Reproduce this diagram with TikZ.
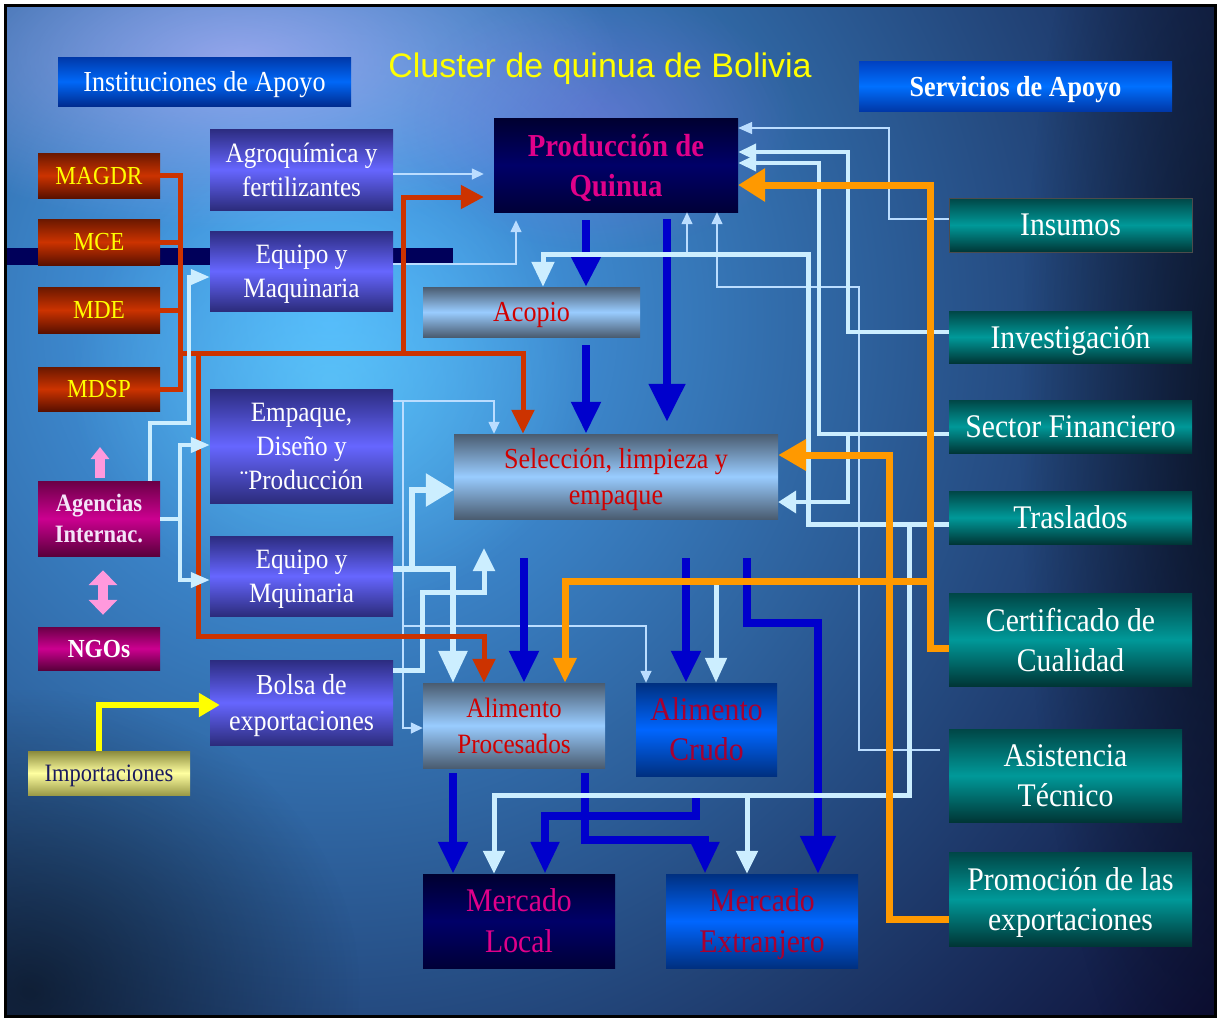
\documentclass[tikz,border=0pt]{standalone}
\usepackage{fontspec}
\setmainfont{Liberation Serif}[FakeStretch=0.9]
\newfontfamily\titlefont{Liberation Sans}
\usetikzlibrary{arrows.meta,fadings}
\definecolor{bgIn}{HTML}{4AAAF8}
\definecolor{bgOut}{HTML}{0C0C32}
\definecolor{glowL}{HTML}{C4B8FF}
\definecolor{glowC}{HTML}{6ADCFF}
\definecolor{glowP}{HTML}{A070F0}
\definecolor{blA}{HTML}{0000CC}
\definecolor{lbA}{HTML}{CCEEFF}
\definecolor{tlA}{HTML}{BBDDFF}
\definecolor{rdA}{HTML}{CC3300}
\definecolor{orA}{HTML}{FF9900}
\definecolor{ylA}{HTML}{FFFF00}
\definecolor{pkA}{HTML}{FF99DD}
\definecolor{barA}{HTML}{00005A}
\definecolor{instT}{HTML}{0038A8}\definecolor{instM}{HTML}{0068F8}\definecolor{instB}{HTML}{002C90}
\definecolor{servT}{HTML}{0040C0}\definecolor{servM}{HTML}{0070FF}\definecolor{servB}{HTML}{0038A8}
\definecolor{navyT}{HTML}{000030}\definecolor{navyM}{HTML}{000068}\definecolor{navyB}{HTML}{000038}
\definecolor{supT}{HTML}{2C2C80}\definecolor{supM}{HTML}{6666FF}\definecolor{supB}{HTML}{2C2C7C}
\definecolor{redT}{HTML}{6A1800}\definecolor{redM}{HTML}{CC3300}\definecolor{redB}{HTML}{5A1000}
\definecolor{magT}{HTML}{6A0046}\definecolor{magM}{HTML}{CC0090}\definecolor{magB}{HTML}{5A003C}
\definecolor{yelT}{HTML}{8A8A3C}\definecolor{yelM}{HTML}{FFFFA0}\definecolor{yelB}{HTML}{9A9A48}
\definecolor{gbT}{HTML}{4A5C70}\definecolor{gbM}{HTML}{99CCFF}\definecolor{gbB}{HTML}{4A5C70}
\definecolor{bbT}{HTML}{003080}\definecolor{bbM}{HTML}{0066FF}\definecolor{bbB}{HTML}{003080}
\definecolor{tealT}{HTML}{004646}\definecolor{tealM}{HTML}{009999}\definecolor{tealB}{HTML}{003636}
\definecolor{magTxt}{HTML}{E0008A}
\definecolor{redTxt}{HTML}{D00000}
\definecolor{dredTxt}{HTML}{A80030}
\definecolor{navyTxt}{HTML}{1A1A5E}
\definecolor{agTxt}{HTML}{F4E4F8}
\tikzfading[name=fuzzy, inner color=transparent!0, outer color=transparent!100]
\newcommand\fz[2]{\fontsize{#1}{#2}\selectfont}
\begin{document}
\begin{tikzpicture}[x=1pt,y=-1pt,
  box/.style={inner sep=0pt, align=center, text depth=-7pt},
  gr/.style n args={3}{top color=#1, bottom color=#3, middle color=#2},
  wh/.style 2 args={minimum width=#1, minimum height=#2},
  ahd/.style 2 args={-{Triangle[width=#1,length=#2]}},
  bl/.style={draw=blA, line width=8pt},
  lbk/.style={draw=lbA, line width=5pt},
  lbm/.style={draw=lbA, line width=4pt},
  lbw/.style={draw=lbA, line width=6pt},
  tln/.style={draw=tlA, line width=1.5pt},
  rd/.style={draw=rdA, line width=5pt},
  orl/.style={draw=orA, line width=7pt},
  yl/.style={draw=ylA, line width=5.5pt},
  pk/.style={draw=pkA, line width=10pt},
  sup/.style={box, gr={supT}{supM}{supB}, text=white, font=\fz{28}{34}},
  rdb/.style={box, gr={redT}{redM}{redB}, text=ylA, font=\fz{26}{30}, wh={122}{45}},
  gbx/.style={box, gr={gbT}{gbM}{gbB}, text=redTxt, font=\fz{29}{36}},
  svc/.style={box, gr={tealT}{tealM}{tealB}, text=white, font=\fz{33}{40}}
]
\useasboundingbox (0,0) rectangle (1220,1021);
\fill[white] (0,0) rectangle (1220,1021);
% background
\begin{scope}
\clip (7,7) rectangle (1215,1016);
\fill[bgOut] (7,7) rectangle (1215,1016);
\shade[inner color=bgIn, outer color=bgOut] (330,320) circle (1150);
\fill[glowL, opacity=.65, path fading=fuzzy] (240,60) ellipse (380 and 170);
\fill[glowC, opacity=.5, path fading=fuzzy] (330,380) ellipse (260 and 230);
\fill[glowP, opacity=.35, path fading=fuzzy] (600,120) ellipse (200 and 130);
\fill[black, opacity=.55, path fading=fuzzy] (30,990) ellipse (330 and 300);
\fill[black, opacity=.6, path fading=fuzzy] (1240,420) ellipse (220 and 760);
\end{scope}
\draw[black, line width=3pt] (5.5,5.5) rectangle (1215.5,1016.5);
\fill[barA] (7,248) rectangle (453,265);

% title
\node[text=ylA, font=\titlefont\fz{34}{40}] (title) at (600,69) {Cluster de quinua de Bolivia};

% nodes
\node[box, gr={instT}{instM}{instB}, wh={293}{49}, text=white, font=\fz{29}{34}] (inst) at (204.5,81.5) {Instituciones de Apoyo};
\node[box, gr={servT}{servM}{servB}, wh={313}{50}, text=white, font=\bfseries\fz{29}{34}] (serv) at (1015.5,86) {Servicios de Apoyo};
\node[box, gr={navyT}{navyM}{navyB}, wh={244}{94}, text=magTxt, font=\bfseries\fz{32}{40}] (prod) at (616,165) {Producción de\\Quinua};
\node[sup, wh={183}{81}] (agro) at (301.5,169.5) {Agroquímica y\\fertilizantes};
\node[sup, wh={183}{80}] (equipo1) at (301.5,271) {Equipo y\\Maquinaria};
\node[rdb] (magdr) at (99,175.5) {MAGDR};
\node[rdb, wh={122}{46}] (mce) at (99,242) {MCE};
\node[rdb, wh={122}{46}] (mde) at (99,310) {MDE};
\node[rdb, wh={122}{44}] (mdsp) at (99,389) {MDSP};
\node[box, gr={magT}{magM}{magB}, wh={122}{75}, text=agTxt, font=\bfseries\fz{25}{31}] (agencias) at (99,518.5) {Agencias\\Internac.};
\node[box, gr={magT}{magM}{magB}, wh={122}{43}, text=white, font=\bfseries\fz{26}{30}] (ngos) at (99,648.5) {NGOs};
\node[box, gr={yelT}{yelM}{yelB}, wh={162}{44}, text=navyTxt, font=\fz{25}{30}] (import) at (109,773) {Importaciones};
\node[gbx, wh={217}{50}] (acopio) at (531.5,312) {Acopio};
\node[sup, wh={183}{114}] (empaque) at (301.5,446) {Empaque,\\Diseño y\\¨Producción};
\node[gbx, wh={324}{85}] (selec) at (616,476.5) {Selección, limpieza y\\empaque};
\node[sup, wh={183}{80}] (equipo2) at (301.5,576) {Equipo y\\Mquinaria};
\node[sup, wh={183}{85}, font=\fz{29}{36}] (bolsa) at (301.5,702.5) {Bolsa de\\exportaciones};
\node[gbx, wh={182}{85}, font=\fz{28}{36}] (aproc) at (514,725.5) {Alimento\\Procesados};
\node[box, gr={bbT}{bbM}{bbB}, wh={141}{93}, text=dredTxt, font=\fz{33}{40}] (acrudo) at (706.5,729.5) {Alimento\\Crudo};
\node[box, gr={navyT}{navyM}{navyB}, wh={192}{94}, text=magTxt, font=\fz{33}{41}] (mlocal) at (519,921) {Mercado\\Local};
\node[box, gr={bbT}{bbM}{bbB}, wh={192}{94}, text=dredTxt, font=\fz{33}{41}] (mext) at (762,921) {Mercado\\Extranjero};
\node[svc, wh={243}{54}, draw=black!70, line width=1pt] (insumos) at (1070.5,225) {Insumos};
\node[svc, wh={243}{52}] (invest) at (1070.5,337) {Investigación};
\node[svc, wh={243}{53}] (sector) at (1070.5,426.5) {Sector Financiero};
\node[svc, wh={243}{53}] (trasl) at (1070.5,517.5) {Traslados};
\node[svc, wh={243}{93}] (cert) at (1070.5,639.5) {Certificado de\\Cualidad};
\node[svc, wh={233}{93}] (asist) at (1065.5,775.5) {Asistencia\\Técnico};
\node[svc, wh={243}{94}] (promo) at (1070.5,899) {Promoción de las\\exportaciones};

% junction coordinates
\coordinate (rj) at (180,353);
\coordinate (rj2) at (403,353);
\coordinate (rj3) at (198,353);
\coordinate (tj1) at (403,401);
\coordinate (tj2) at (403,626);
\coordinate (tj3) at (687,254);
\coordinate (lj1) at (848,434);
\coordinate (lj2) at (412,569);
\coordinate (lj3) at (747,795);
\coordinate (lj4) at (180,518.5);
\coordinate (orj) at (716,581);
\coordinate (orj2) at (930,581);
\coordinate (bolsaend) at (484,548);
\coordinate (pkend) at (100,447);

% thin light-blue connectors
\draw[tln, ahd={11pt}{12pt}, shorten >=10pt] (agro.east |- 0,174) -- (prod.west |- 0,174);
\draw[tln, ahd={11pt}{12pt}, shorten >=8pt] (equipo1.east |- 0,264) -| (prod.south -| 516,0);
\draw[tln, ahd={11pt}{12pt}] (empaque.east |- 0,401) -| (selec.north -| 494,0);
\draw[tln, ahd={11pt}{12pt}] (tj1) |- (aproc.west |- 0,728);
\draw[tln, ahd={11pt}{12pt}] (tj2) -| (acrudo.north -| 646,0);
\draw[tln, ahd={12pt}{14pt}] (insumos.west |- 0,219) -| (889,128) -- (prod.east |- 0,128);
\draw[tln, ahd={11pt}{12pt}, shorten <=9pt] (asist.west |- 0,750) -| (859,287) -| (prod.south -| 717,0);
\draw[tln, ahd={11pt}{12pt}] (tj3) -- (prod.south -| 687,0);

% blue thick arrows
\draw[bl, ahd={28pt}{30pt}, shorten <=8pt] (prod.south -| 586,0) -- (acopio.north -| 586,0);
\draw[bl, ahd={35pt}{38pt}, shorten <=7pt, shorten >=12pt] (prod.south -| 667,0) -- (selec.north -| 667,0);
\draw[bl, ahd={28pt}{32pt}, shorten <=8pt] (acopio.south -| 586,0) -- (selec.north -| 586,0);
\draw[bl, ahd={28pt}{32pt}, shorten <=39pt] (selec.south -| 524,0) -- (aproc.north -| 524,0);
\draw[bl, ahd={28pt}{32pt}, shorten <=39pt] (selec.south -| 686,0) -- (acrudo.north -| 686,0);
\draw[bl, ahd={34pt}{38pt}, shorten <=39pt] (selec.south -| 747,0) |- (818,623) -- (mext.north -| 818,0);
\draw[bl, ahd={28pt}{32pt}, shorten <=5pt] (aproc.south -| 453,0) -- (mlocal.north -| 453,0);
\draw[bl, ahd={27pt}{32pt}, shorten <=5pt] (aproc.south -| 585,0) |- (705,840) -- (mext.north -| 705,0);
\draw[bl, ahd={27pt}{32pt}, shorten <=21pt] (acrudo.south -| 696,0) |- (545,816) -- (mlocal.north -| 545,0);

% light-blue thick connectors
\draw[lbk, ahd={22pt}{25pt}] (trasl.west |- 0,524) -| (808,254) -| (acopio.north -| 543,0);
\draw[lbk, ahd={21pt}{23pt}] (trasl.west |- 0,524) -| (909,795) -| (mlocal.north -| 494,0);
\draw[lbk, ahd={21pt}{23pt}] (lj3) -- (mext.north -| 747,0);
\draw[lbm, ahd={16pt}{18pt}] (invest.west |- 0,332) -| (848,152) -- (prod.east |- 0,152);
\draw[lbm, ahd={16pt}{18pt}] (sector.west |- 0,434) -| (819,163) -- (prod.east |- 0,163);
\draw[lbm, ahd={22pt}{18pt}] (lj1) |- (selec.east |- 0,502);
\draw[lbw, ahd={28pt}{32pt}] (equipo2.east |- 0,569) -| (aproc.north -| 453,0);
\draw[lbw, ahd={32pt}{28pt}] (lj2) |- (selec.west |- 0,490);
\draw[lbk, ahd={21pt}{23pt}] (bolsa.east |- 0,670) -| (422,592) -| (bolsaend);
\draw[lbk, ahd={21pt}{25pt}] (orj) -- (acrudo.north -| 716,0);

% red connectors
\draw[rd] (magdr.east) -| (mdsp.east -| 180,0) -- (mdsp.east);
\draw[rd] (mce.east) -- (mce.east -| 180,0);
\draw[rd] (mde.east) -- (mde.east -| 180,0);
\draw[rd, ahd={22pt}{24pt}] (rj) -| (selec.north -| 523,0);
\draw[rd, ahd={23pt}{23pt}, shorten >=10pt] (rj2) |- (prod.west |- 0,197);
\draw[rd, ahd={22pt}{24pt}] (rj3) |- (484,636) -- (aproc.north -| 484,0);

% agencias light-blue connectors
\draw[lbm, ahd={15pt}{19pt}] (agencias.north -| 150,0) |- (189,423) |- (equipo1.west |- 0,277);
\draw[lbm, ahd={15pt}{19pt}] (agencias.east) -| (180,445) -- (empaque.west |- 0,445);
\draw[lbm, ahd={15pt}{19pt}] (lj4) |- (equipo2.west |- 0,580);

% orange connectors
\draw[orl, ahd={32pt}{27pt}] (cert.west |- 0,648) -| (930,185) -- (prod.east |- 0,185);
\draw[orl, ahd={22pt}{25pt}] (orj2) -| (aproc.north -| 565,0);
\draw[orl, ahd={30pt}{28pt}] (promo.west |- 0,919) -| (889,455) -- (selec.east |- 0,455);

% yellow
\draw[yl, ahd={23pt}{21pt}, shorten >=-10pt] (import.north -| 99,0) |- (bolsa.west |- 0,705);

% pink
\draw[pk, ahd={18pt}{12pt}, shorten <=3pt] (agencias.north -| 100,0) -- (pkend);
\draw[pk, {Triangle[width=28pt,length=15pt]}-{Triangle[width=28pt,length=15pt]}, shorten <=14pt, shorten >=12pt] (agencias.south -| 103,0) -- (ngos.north -| 103,0);
\end{tikzpicture}
\end{document}
